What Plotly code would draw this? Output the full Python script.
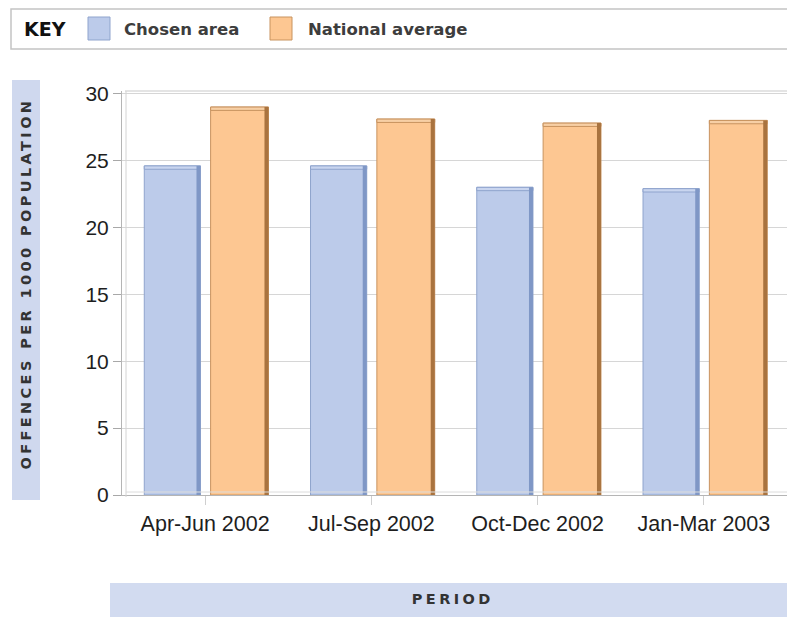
import plotly.graph_objects as go

# ---- data -------------------------------------------------------------
periods = ["Apr-Jun 2002", "Jul-Sep 2002", "Oct-Dec 2002", "Jan-Mar 2003"]
series_names = ["Chosen area", "National average"]
chosen_area = [24.6, 24.6, 23.0, 22.9]
national_average = [29.0, 28.1, 27.8, 28.0]
y_ticks = [0, 5, 10, 15, 20, 25, 30]

# ---- page geometry (pixels) -------------------------------------------
W, H = 787, 617
ML, MR, MT, MB = 122, 0, 91, 122


def px(x):
    """pixel x -> paper x"""
    return (x - ML) / (W - ML - MR)


def py(y):
    """pixel y (from top) -> paper y"""
    return (H - MB - y) / (H - MT - MB)


# ---- bar styling --------------------------------------------------------
styles = [
    dict(face="#bccbea", edge="#8fa4cd", side="#7f97c6", top="#c9d5ef",
         offset=-0.366, width=0.338),
    dict(face="#fdc792", edge="#c8935f", side="#a9733f", top="#f7cfa5",
         offset=0.033, width=0.348),
]
SIDE_W = 0.024
TOP_H = 0.25

xs = list(range(len(periods)))
fig = go.Figure()

for name, vals, st in zip(series_names, [chosen_area, national_average], styles):
    # front face of each bar
    fig.add_trace(go.Bar(
        x=xs, y=vals, name=name,
        offset=st["offset"], width=st["width"],
        marker=dict(color=st["face"], line=dict(color=st["edge"], width=1)),
        showlegend=False, hoverinfo="y+name",
    ))
    # lighter cap along the top
    fig.add_trace(go.Bar(
        x=xs, y=[TOP_H] * len(vals), base=[v - TOP_H for v in vals], name=name,
        offset=st["offset"], width=st["width"],
        marker=dict(color=st["top"], line=dict(color=st["edge"], width=1)),
        showlegend=False, hoverinfo="skip",
    ))
    # darker right-hand side for the bevelled look
    fig.add_trace(go.Bar(
        x=xs, y=vals, name=name,
        offset=st["offset"] + st["width"] - SIDE_W, width=SIDE_W,
        marker=dict(color=st["side"], line=dict(width=0)),
        showlegend=False, hoverinfo="skip",
    ))

LABEL_FONT = dict(family="Liberation Sans, Arial, sans-serif", size=21, color="#1e1e1e")
BOLD = "DejaVu Sans, Verdana, sans-serif"

shapes = []
annotations = []

# chart wall: top edge and inner left edge
shapes.append(dict(type="line", xref="paper", yref="paper", x0=px(125), x1=1.01,
                   y0=py(91), y1=py(91), line=dict(color="#c9c9c9", width=1.2)))
shapes.append(dict(type="line", xref="paper", yref="paper", x0=px(126), x1=px(126),
                   y0=py(91), y1=py(497), line=dict(color="#d4d4d4", width=1)))
shapes.append(dict(type="line", xref="paper", yref="paper", x0=px(126), x1=1.01,
                   y0=py(492), y1=py(492), line=dict(color="#dcdcdc", width=1)))

# key box
shapes.append(dict(type="rect", xref="paper", yref="paper", x0=px(11), x1=px(800),
                   y0=py(49), y1=py(9), line=dict(color="#c4c4c4", width=1.5),
                   fillcolor="white", layer="below"))
annotations.append(dict(text="KEY", xref="paper", yref="paper", x=px(22), y=py(29),
                        xanchor="left", yanchor="middle", showarrow=False,
                        font=dict(family=BOLD, size=19, color="#111111", weight="bold")))
key_items = [(88, 122), (270, 306)]
for name, st, (sx, tx) in zip(series_names, styles, key_items):
    shapes.append(dict(type="rect", xref="paper", yref="paper", x0=px(sx), x1=px(sx + 22),
                       y0=py(40), y1=py(17), fillcolor=st["face"],
                       line=dict(color=st["edge"], width=1)))
    annotations.append(dict(text=name, xref="paper", yref="paper", x=px(tx), y=py(29),
                            xanchor="left", yanchor="middle", showarrow=False,
                            font=dict(family=BOLD, size=16.5, color="#3d3d3d", weight="bold")))

# axis title bands
shapes.append(dict(type="rect", xref="paper", yref="paper", x0=px(12), x1=px(40),
                   y0=py(500), y1=py(80), fillcolor="#cfd8ee", line=dict(width=0), layer="below"))
annotations.append(dict(text="OFFENCES PER 1000 POPULATION", xref="paper", yref="paper",
                        x=px(26), y=py(284), textangle=-90, showarrow=False,
                        xanchor="center", yanchor="middle",
                        font=dict(family=BOLD, size=14.5, color="#333333", weight="bold")))
shapes.append(dict(type="rect", xref="paper", yref="paper", x0=px(110), x1=px(800),
                   y0=py(620), y1=py(583), fillcolor="#d2dbf0", line=dict(width=0), layer="below"))
annotations.append(dict(text="PERIOD", xref="paper", yref="paper",
                        x=px(452), y=py(599), showarrow=False,
                        xanchor="center", yanchor="middle",
                        font=dict(family=BOLD, size=14.5, color="#333333", weight="bold")))

fig.update_layout(
    width=W, height=H,
    margin=dict(l=ML, r=MR, t=MT, b=MB, pad=0),
    paper_bgcolor="white", plot_bgcolor="white",
    barmode="overlay",
    showlegend=False,
    shapes=shapes,
    annotations=annotations,
    xaxis=dict(
        range=[-0.5, 3.5], tickvals=xs, ticktext=periods,
        ticks="outside", ticklen=9, tickcolor="#cfcfcf", tickwidth=1,
        showline=True, linecolor="#b5b5b5", linewidth=1,
        showgrid=False, zeroline=False,
        tickfont=dict(LABEL_FONT, size=21.5),
        fixedrange=True,
    ),
    yaxis=dict(
        range=[0, 30.2], tickvals=y_ticks,
        ticks="outside", ticklen=8, tickcolor="#a8a8a8", tickwidth=1,
        showline=True, linecolor="#b5b5b5", linewidth=1,
        showgrid=True, gridcolor="#d6d6d6", gridwidth=1,
        zeroline=False, tickfont=LABEL_FONT, fixedrange=True,
    ),
)

# spaced capitals for the axis captions
post = """
document.querySelectorAll('text.annotation-text').forEach(function (t) {
  var s = t.textContent;
  if (s === 'PERIOD' || s.indexOf('OFFENCES') === 0) { t.style.letterSpacing = '3.4px'; }
});
"""

fig.write_html("out.html", post_script=post, config={"displayModeBar": False})
